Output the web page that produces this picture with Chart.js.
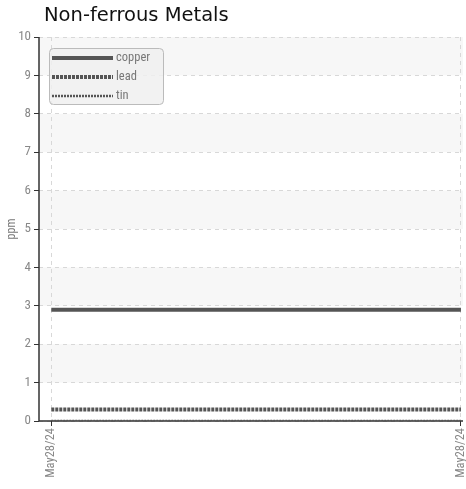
<!DOCTYPE html>
<html><head><meta charset="utf-8">
<script src="https://cdn.jsdelivr.net/npm/chart.js@4"></script>
<style>html,body{margin:0;padding:0;background:#fff}#w{width:466px;height:489px;position:relative}</style>
</head><body><div id="w"><canvas id="c"></canvas></div>
<script>
const titleText = 'Non-ferrous Metals';
const categories = ['May28/24', 'May28/24'];
const seriesNames = ['copper', 'lead', 'tin'];
const copper = [2.9, 2.9];
const lead = [0.3, 0.3];
const tin = [0.0, 0.0];
const yTicks = [0,1,2,3,4,5,6,7,8,9,10];
const yLabel = 'ppm';

const styles = [
  {color:'#555', width:4, dash:[]},
  {color:'#555', width:4, dash:[3,1]},
  {color:'#555', width:2.5, dash:[2,1]}
];
const values = [copper, lead, tin];
const datasets = seriesNames.map((n,i)=>({
  label:n,
  data: values[i].map((v,j)=>({x:j,y:v})),
  borderColor:styles[i].color, borderWidth:styles[i].width, borderDash:styles[i].dash,
  pointRadius:0, fill:false, tension:0
}));
const condensed = '"Liberation Sans Narrow", "Roboto Condensed", "DejaVu Sans Condensed", sans-serif';

const bands = {
  id:'bands',
  beforeDraw(chart){
    const {ctx, chartArea:a, scales:{y}} = chart;
    ctx.save(); ctx.fillStyle='#f7f7f7';
    for(let v=1; v<10; v+=2){
      const t=y.getPixelForValue(v+1), b=y.getPixelForValue(v);
      ctx.fillRect(a.left, t, a.right-a.left, b-t);
    }
    ctx.restore();
  }
};
const axes = {
  id:'axes',
  beforeDatasetsDraw(chart){
    const {ctx, chartArea:a} = chart;
    ctx.save(); ctx.strokeStyle='#333'; ctx.lineWidth=1.5; ctx.setLineDash([]);
    ctx.beginPath(); ctx.moveTo(a.left, a.top); ctx.lineTo(a.left, a.bottom);
    ctx.lineTo(a.right, a.bottom); ctx.stroke();
    ctx.restore();
  }
};
const extras = {
  id:'extras',
  afterDraw(chart){
    const {ctx, chartArea:a} = chart;
    ctx.save();
    ctx.fillStyle='#111'; ctx.font='19.5px "DejaVu Sans", sans-serif';
    ctx.textBaseline='middle'; ctx.textAlign='left';
    ctx.fillText(titleText, 44, 16);
    ctx.translate(12, (a.top+a.bottom)/2); ctx.rotate(-Math.PI/2);
    ctx.fillStyle='#777'; ctx.font='12px '+condensed; ctx.textAlign='center';
    ctx.fillText(yLabel, 0, 0);
    ctx.restore();
    ctx.save();
    const lx=49, ly=48, lw=114, lh=56;
    ctx.beginPath(); ctx.roundRect(lx+0.5, ly+0.5, lw, lh, 4);
    ctx.fillStyle='rgba(240,240,240,0.85)'; ctx.fill();
    ctx.strokeStyle='#bbb'; ctx.lineWidth=1; ctx.stroke();
    seriesNames.forEach((n,i)=>{
      const yy = ly+10+i*19;
      ctx.beginPath(); ctx.setLineDash(styles[i].dash); ctx.lineWidth=styles[i].width;
      ctx.strokeStyle=styles[i].color; ctx.moveTo(lx+3, yy); ctx.lineTo(lx+64, yy); ctx.stroke();
      ctx.setLineDash([]);
      ctx.fillStyle='#777'; ctx.font='12.5px '+condensed; ctx.textBaseline='middle'; ctx.textAlign='left';
      ctx.fillText(n, lx+67, yy);
    });
    ctx.restore();
  }
};

new Chart(document.getElementById('c'), {
  type:'line',
  data:{datasets},
  plugins:[bands, axes, extras],
  options:{
    responsive:true, maintainAspectRatio:false, animation:false,
    layout:{padding:{top:37, right:3, left:0, bottom:0}},
    plugins:{legend:{display:false}, title:{display:false}, tooltip:{enabled:false}},
    scales:{
      x:{type:'linear', min:-0.03, max:1.005,
        afterBuildTicks(s){ s.ticks = categories.map((c,i)=>({value:i})); },
        afterFit(s){ s.height = 68; s.paddingLeft = 0; s.paddingRight = 0; },
        ticks:{callback:(v)=>categories[v], minRotation:90, maxRotation:90, color:'#888',
          font:{family:condensed, size:12.5}, padding:2, autoSkip:false},
        grid:{color:'#d8d8d8', tickColor:'#333', tickLength:5, tickBorderDash:[], lineWidth:1},
        border:{display:false, dash:[4,4]}
      },
      y:{min:0, max:10,
        afterBuildTicks(s){ s.ticks = yTicks.map(v=>({value:v})); },
        afterFit(s){ s.width = 39; s.paddingTop = 0; s.paddingBottom = 0; },
        ticks:{color:'#888', font:{family:condensed, size:13}, padding:3},
        grid:{color:'#d8d8d8', tickColor:'#333', tickLength:5, tickBorderDash:[], lineWidth:1},
        border:{display:false, dash:[4,4]}
      }
    }
  }
});
</script></body></html>
